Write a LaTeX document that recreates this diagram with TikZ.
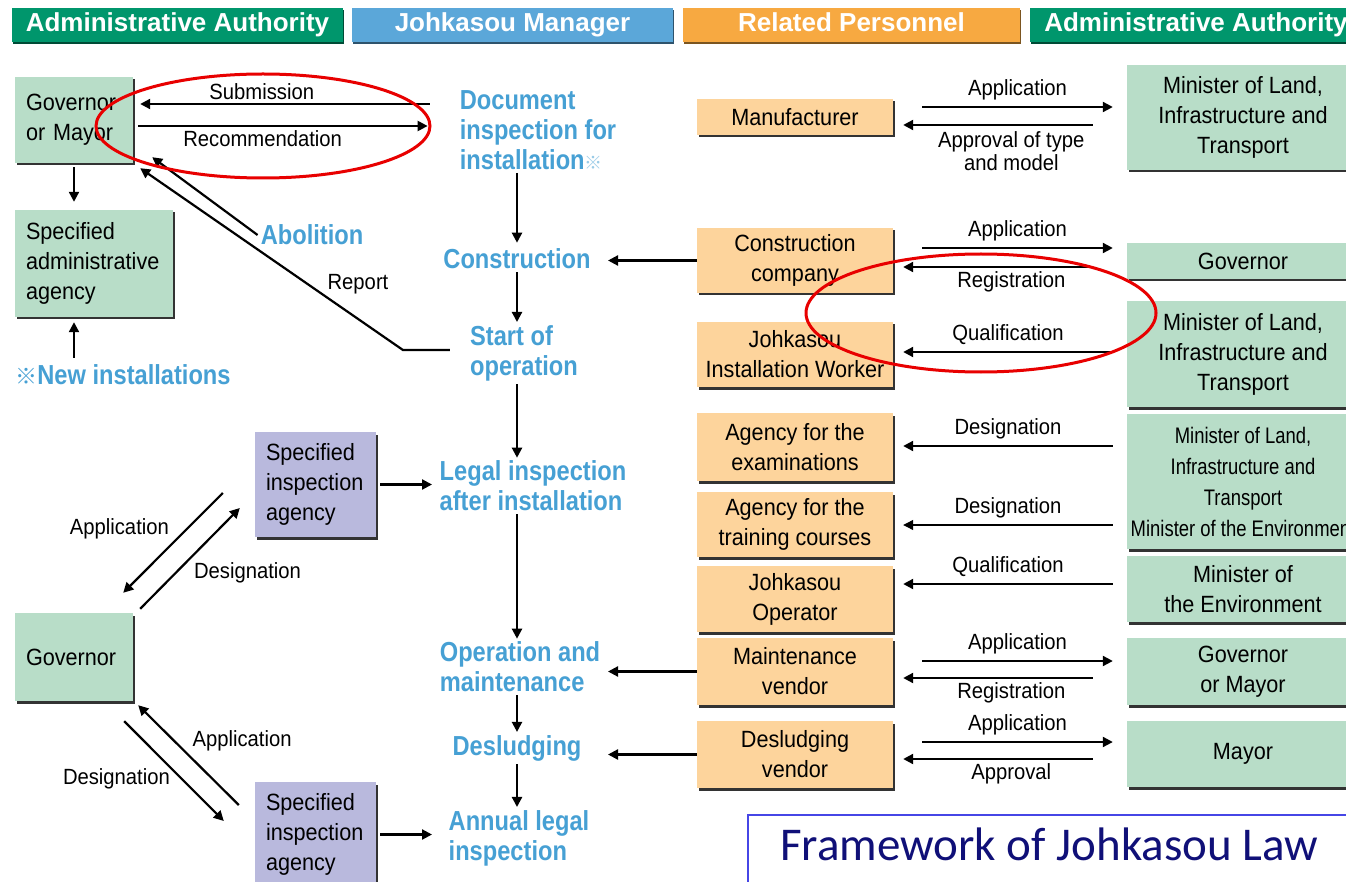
\documentclass[tikz,border=0pt]{standalone}
\usepackage{fontspec}
\setmainfont{Liberation Sans}
\newfontfamily\cond[FakeStretch=0.92]{Liberation Sans}
\newfontfamily\condn[FakeStretch=0.82]{Liberation Sans}
\newfontfamily\condb[FakeStretch=0.86]{Liberation Sans}
\newfontfamily\ttlfont{Carlito}
\newfontfamily\cjk{Noto Sans CJK JP}
\usetikzlibrary{arrows.meta,shadows}
\definecolor{hdrgreen}{RGB}{0,150,108}
\definecolor{hdrblue}{RGB}{91,167,217}
\definecolor{hdrorange}{RGB}{247,169,65}
\definecolor{boxgreen}{RGB}{184,221,200}
\definecolor{boxorange}{RGB}{253,212,156}
\definecolor{boxpurple}{RGB}{185,185,221}
\definecolor{stepblue}{RGB}{70,160,212}
\definecolor{ringred}{RGB}{232,0,0}
\definecolor{ttlblue}{RGB}{70,70,230}
\definecolor{ttlnavy}{RGB}{16,16,120}
\begin{document}
\begin{tikzpicture}[x=1pt,y=-1pt,
	hdr/.style={fill=#1, drop shadow={shadow xshift=1pt,shadow yshift=-2pt,fill=#1!50!black,opacity=1},
		text=white, font=\fontsize{26}{28}\selectfont\bfseries, minimum height=34pt, inner sep=0pt,
		text height=19pt, text depth=5pt},
	box/.style={fill=#1, drop shadow={shadow xshift=2pt,shadow yshift=-2.5pt,fill=black!80,opacity=1},
		font=\cond\fontsize{23.5}{30}\selectfont, align=center, inner sep=0pt},
	lbox/.style={box=#1, align=left, inner xsep=11pt},
	stage/.style={text=stepblue, font=\condb\bfseries\fontsize{27.5}{30}\selectfont, align=left, inner sep=3pt},
	lbl/.style={font=\cond\fontsize{22}{23}\selectfont, inner sep=3pt, align=center},
	arr/.style={-{Triangle[length=10pt,width=10pt]}, line width=2.2pt},
	ring/.style={draw=ringred, line width=3pt}]
	\fill[white] (0,0) rectangle (1346,882);
	\useasboundingbox (0,0) rectangle (1346,882);
	% headers
	\node[hdr=hdrgreen, minimum width=331pt] (hdadm) at (177.5,25) {Administrative Authority};
	\node[hdr=hdrblue, minimum width=321pt] (hdmgr) at (512.5,25) {Johkasou Manager};
	\node[hdr=hdrorange, minimum width=337pt] (hdrel) at (851.5,25) {Related Personnel};
	\node[hdr=hdrgreen, minimum width=332pt] (hdadm2) at (1196,25) {Administrative Authority};
	% left column
	\node[lbox=boxgreen, minimum width=118pt, minimum height=86pt, text width=96pt] (gm) at (74,120) {Governor\\or Mayor};
	\node[lbox=boxgreen, minimum width=158pt, minimum height=107pt, text width=136pt] (sag) at (94,263.5) {Specified\\administrative\\agency};
	\node[stage] (newinst) at (123,375) {{\cjk\fontsize{22}{22}\selectfont ※}New installations};
	\node[lbox=boxgreen, minimum width=118pt, minimum height=88pt, text width=96pt] (gov2) at (74,657) {Governor};
	\node[lbox=boxpurple, minimum width=121pt, minimum height=105pt, text width=99pt] (sia1) at (315.5,484.5) {Specified\\inspection\\agency};
	\node[lbox=boxpurple, minimum width=121pt, minimum height=105pt, text width=99pt] (sia2) at (315.5,834.5) {Specified\\inspection\\agency};
	% Johkasou manager steps
	\node[stage] (doc) at (538,130) {Document\\inspection for\\installation{\cjk\fontsize{18}{18}\selectfont\color{stepblue!55}※}};
	\node[stage] (constr) at (517,259) {Construction};
	\node[stage] (start) at (524,353) {Start of\\operation};
	\node[stage] (legal) at (533,486) {Legal inspection\\after installation};
	\node[stage] (opm) at (520,667) {Operation and\\maintenance};
	\node[stage] (desl) at (517,748) {Desludging};
	\node[stage] (annual) at (519,838) {Annual legal\\inspection};
	\node[stage] (abol) at (312,235) {Abolition};
	\coordinate (spine) at (517,0);
	\coordinate (mgrin) at (608,0);
	\coordinate (lin) at (428,0);
	% related personnel
	\node[box=boxorange, minimum width=196pt, minimum height=36pt] (manuf) at (795,117) {Manufacturer};
	\node[box=boxorange, minimum width=196pt, minimum height=65pt] (conco) at (795,260.5) {Construction\\company};
	\node[box=boxorange, minimum width=196pt, minimum height=65pt] (instw) at (795,354.5) {Johkasou\\Installation Worker};
	\node[box=boxorange, minimum width=196pt, minimum height=68pt] (agexam) at (795,447) {Agency for the\\examinations};
	\node[box=boxorange, minimum width=196pt, minimum height=65pt] (agtrain) at (795,524.5) {Agency for the\\training courses};
	\node[box=boxorange, minimum width=196pt, minimum height=66pt] (jop) at (795,599) {Johkasou\\Operator};
	\node[box=boxorange, minimum width=196pt, minimum height=67pt] (mvend) at (795,671.5) {Maintenance\\vendor};
	\node[box=boxorange, minimum width=196pt, minimum height=67pt] (dvend) at (795,754.5) {Desludging\\vendor};
	% right authorities
	\node[box=boxgreen, minimum width=232pt, minimum height=105pt] (minl1) at (1243,117.5) {Minister of Land,\\Infrastructure and\\Transport};
	\node[box=boxgreen, minimum width=232pt, minimum height=36pt] (govr) at (1243,261) {Governor};
	\node[box=boxgreen, minimum width=232pt, minimum height=106pt] (minl2) at (1243,354) {Minister of Land,\\Infrastructure and\\Transport};
	\node[box=boxgreen, minimum width=232pt, minimum height=135pt, font=\condn\fontsize{22.5}{31}\selectfont] (minle) at (1243,481.5) {Minister of Land,\\Infrastructure and\\Transport\\Minister of the Environment};
	\node[box=boxgreen, minimum width=232pt, minimum height=66pt] (mine) at (1243,589) {Minister of\\the Environment};
	\node[box=boxgreen, minimum width=232pt, minimum height=67pt] (gomr) at (1243,671.5) {Governor\\or Mayor};
	\node[box=boxgreen, minimum width=232pt, minimum height=66pt] (mayor) at (1243,754) {Mayor};
	% flow down
	\draw[arr, shorten >=3pt] (doc.south -| spine) -- (constr.north -| spine);
	\draw[arr] (constr.south -| spine) -- (start.north -| spine);
	\draw[arr] (start.south -| spine) -- (legal.north -| spine);
	\draw[arr] (legal.south -| spine) -- (opm.north -| spine);
	\draw[arr] (opm.south -| spine) -- (desl.north -| spine);
	\draw[arr] (desl.south -| spine) -- (annual.north -| spine);
	\draw[arr] (conco.west) -- (conco.west -| mgrin);
	\draw[arr] (mvend.west) -- (mvend.west -| mgrin);
	\draw[arr] (dvend.west) -- (dvend.west -| mgrin);
	\draw[arr] ([xshift=4pt]sia1.east) -- ([xshift=4pt]sia1.east -| lin);
	\draw[arr] ([xshift=4pt]sia2.east) -- ([xshift=4pt]sia2.east -| lin);
	% governor or mayor
	\draw[arr, shorten <=4pt, shorten >=8pt] (gm.south) -- (gm.south |- sag.north);
	\draw[arr, shorten <=4pt, shorten >=5pt] (gm.south |- newinst.north) -- (gm.south |- sag.south);
	\draw[arr] ([shift={(-27,-26)}]doc.west) -- ([shift={(7,-16)}]gm.east) node[lbl, pos=0.58, above]{Submission};
	\draw[arr] ([shift={(5,6)}]gm.east) -- ([shift={(-29,-4)}]doc.west) node[lbl, pos=0.43, below]{Recommendation};
	\draw[arr] (abol.west) -- ([shift={(19,-6)}]gm.south east);
	\draw[arr] ([shift={(-17,-3)}]start.west) -- ++(-47,0) -- ([shift={(7,5)}]gm.south east);
	\node[lbl] (rep) at (358,284) {Report};
	% governor and inspection agencies
	\draw[arr] ([shift={(-32,8.5)}]sia1.west) -- ([shift={(-10,-20)}]gov2.north east) node[lbl, midway, above left]{Application};
	\draw[arr] ([shift={(7,-4)}]gov2.north east) -- ([shift={(-15,23.5)}]sia1.west) node[lbl, midway, below right]{Designation};
	\draw[arr] ([shift={(-16,-29.5)}]sia2.west) -- ([shift={(5,4)}]gov2.south east) node[lbl, midway, above right]{Application};
	\draw[arr] ([shift={(-9,20)}]gov2.south east) -- ([shift={(-31,-13.5)}]sia2.west) node[lbl, midway, left, yshift=-8pt]{Designation};
	% personnel and authorities
	\draw[arr] ([shift={(29,-10)}]manuf.east) -- ([shift={(-14,-10.5)}]minl1.west) node[lbl, midway, above=3pt]{Application};
	\draw[arr] ([shift={(-34,7.5)}]minl1.west) -- ([shift={(10,8)}]manuf.east) node[lbl, pos=0.43, below=2pt]{Approval of type\\and model};
	\draw[arr] ([shift={(29,-12.5)}]conco.east) -- ([shift={(-14,-13)}]govr.west) node[lbl, midway, above=3pt]{Application};
	\draw[arr] ([shift={(-34,6)}]govr.west) -- ([shift={(10,6.5)}]conco.east) node[lbl, pos=0.43, below]{Registration};
	\draw[arr] ([shift={(-14,-2)}]minl2.west) -- ([shift={(10,-2.5)}]instw.east) node[lbl, midway, above=3pt]{Qualification};
	\draw[arr] ([shift={(-14,-35.5)}]minle.west) -- ([shift={(10,-1)}]agexam.east) node[lbl, midway, above=3pt]{Designation};
	\draw[arr, line width=1.2pt] ([shift={(-14,43.5)}]minle.west) -- ([shift={(10,0.5)}]agtrain.east) node[lbl, midway, above=3pt]{Designation};
	\draw[arr] ([shift={(-14,-5)}]mine.west) -- ([shift={(10,-15)}]jop.east) node[lbl, midway, above=3pt]{Qualification};
	\draw[arr] ([shift={(29,-10.5)}]mvend.east) -- ([shift={(-14,-10.5)}]gomr.west) node[lbl, midway, above=3pt]{Application};
	\draw[arr] ([shift={(-34,6.5)}]gomr.west) -- ([shift={(10,6.5)}]mvend.east) node[lbl, pos=0.43, below]{Registration};
	\draw[arr] ([shift={(29,-12.5)}]dvend.east) -- ([shift={(-14,-12)}]mayor.west) node[lbl, midway, above=3pt]{Application};
	\draw[arr] ([shift={(-34,5)}]mayor.west) -- ([shift={(10,4.5)}]dvend.east) node[lbl, pos=0.43, below]{Approval};
	% title
	\node[draw=ttlblue, line width=1.5pt, fill=white, anchor=north west, minimum width=603pt, minimum height=68pt,
		inner sep=0pt, text=ttlnavy, font=\ttlfont\fontsize{47}{50}\selectfont,
		text height=35pt, text depth=12pt] (ttl) at (747,814) {Framework of Johkasou Law};
	% red rings
	\draw[ring] (263,126) ellipse [x radius=167pt, y radius=52pt];
	\draw[ring] (981,313) ellipse [x radius=175pt, y radius=59pt];
\end{tikzpicture}
\end{document}
